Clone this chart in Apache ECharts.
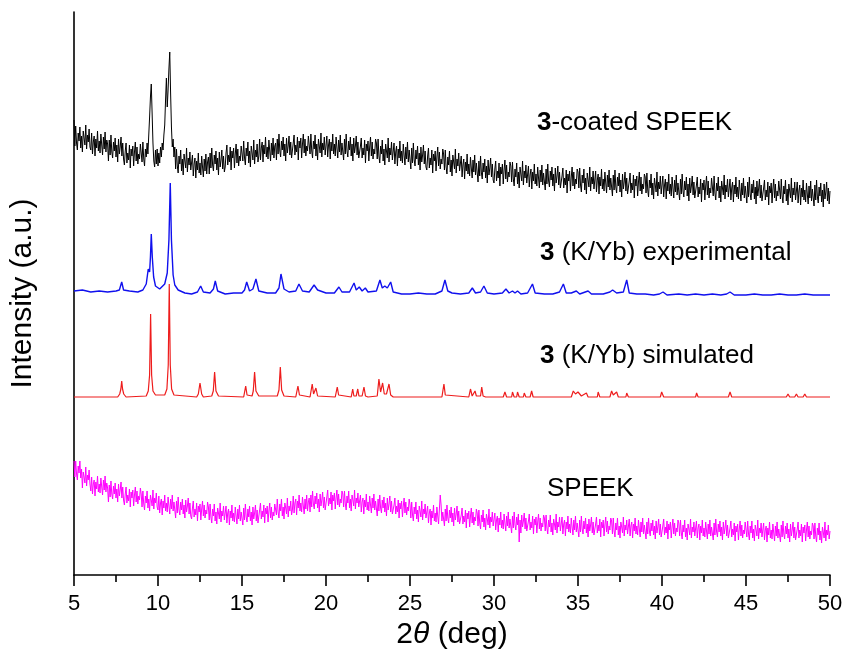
<!DOCTYPE html>
<html><head><meta charset="utf-8">
<script src="https://cdn.jsdelivr.net/npm/echarts@6/dist/echarts.min.js"></script>
<style>html,body{margin:0;padding:0;background:#fff}#chart{width:847px;height:657px}</style>
</head><body><div id="chart"></div>
<script>
// Measurement grid of the two noisy (amorphous) patterns: 5.00° .. 50.00°, step 0.05°
const xStart = 5, xStep = 0.05;

// 3-coated SPEEK (black), intensity in arbitrary units (offset stacked), one row per degree
const coatedSpeek = [
455,429,449,432,425,442,434,448,427,439,423,444,437,430,450,426,440,433,446,428,
425,442,421,433,439,419,436,427,444,424,434,422,441,430,420,438,426,443,423,435,
431,414,435,420,440,423,417,433,424,437,418,430,413,436,421,428,438,419,432,416,
410,424,432,412,422,415,430,407,426,419,429,409,423,433,414,428,411,421,416,431,
429,413,433,416,409,426,418,432,421,440,458,478,491,462,432,414,408,425,411,426,
409,422,412,428,418,432,425,440,450,475,497,468,485,506,523,482,448,428,436,418,
428,406,426,409,402,419,411,425,404,416,400,421,414,407,427,403,417,410,423,405,
403,420,399,411,417,397,414,405,422,402,412,400,419,408,398,416,404,421,401,413,
418,401,422,407,427,410,404,420,411,424,405,417,400,423,408,415,425,406,419,403,
408,422,430,410,420,413,428,405,424,417,427,407,421,431,412,426,409,419,414,429,
430,414,434,417,410,427,419,433,412,424,408,429,422,415,435,411,425,418,431,413,
419,436,415,427,433,413,430,421,438,418,428,416,435,424,414,432,420,437,417,429,
432,415,436,421,441,424,418,434,425,438,419,431,414,437,422,429,439,420,433,417,
418,432,440,420,430,423,438,415,434,427,437,417,431,441,422,436,419,429,424,439,
437,421,441,424,417,434,426,440,419,431,415,436,429,422,442,418,432,425,438,420,
422,439,418,430,436,416,433,424,441,421,431,419,438,427,417,435,423,440,420,432,
432,415,436,421,441,424,418,434,425,438,419,431,414,437,422,429,439,420,433,417,
415,429,437,417,427,420,435,412,431,424,434,414,428,438,419,433,416,426,421,436,
432,416,436,419,412,429,421,435,414,426,410,431,424,417,437,413,427,420,433,415,
415,432,411,423,429,409,426,417,434,414,424,412,431,420,410,428,416,433,413,425,
423,406,427,412,432,415,409,425,416,429,410,422,405,428,413,420,430,411,424,408,
405,419,427,407,417,410,425,402,421,414,424,404,418,428,409,423,406,416,411,426,
421,405,425,408,401,418,410,424,403,415,399,420,413,406,426,402,416,409,422,404,
402,419,398,410,416,396,413,404,421,401,411,399,418,407,397,415,403,420,400,412,
410,393,414,399,419,402,396,412,403,416,397,409,392,415,400,407,417,398,411,395,
392,406,414,394,404,397,412,389,408,401,411,391,405,415,396,410,393,403,398,413,
409,393,413,396,389,406,398,412,391,403,387,408,401,394,414,390,404,397,410,392,
392,409,388,400,406,386,403,394,411,391,401,389,408,397,387,405,393,410,390,402,
402,385,406,391,411,394,388,404,395,408,389,401,384,407,392,399,409,390,403,387,
385,399,407,387,397,390,405,382,401,394,404,384,398,408,389,403,386,396,391,406,
403,387,407,390,383,400,392,406,385,397,381,402,395,388,408,384,398,391,404,386,
387,404,383,395,401,381,398,389,406,386,396,384,403,392,382,400,388,405,385,397,
396,379,400,385,405,388,382,398,389,402,383,395,378,401,386,393,403,384,397,381,
380,394,402,382,392,385,400,377,396,389,399,379,393,403,384,398,381,391,386,401,
398,382,402,385,378,395,387,401,380,392,376,397,390,383,403,379,393,386,399,381,
382,399,378,390,396,376,393,384,401,381,391,379,398,387,377,395,383,400,380,392,
392,375,396,381,401,384,378,394,385,398,379,391,374,397,382,389,399,380,393,377,
376,390,398,378,388,381,396,373,392,385,395,375,389,399,380,394,377,387,382,397,
395,379,399,382,375,392,384,398,377,389,373,394,387,380,400,376,390,383,396,378,
379,396,375,387,393,373,390,381,398,378,388,376,395,384,374,392,380,397,377,389,
389,372,393,378,398,381,375,391,382,395,376,388,371,394,379,386,396,377,390,374,
373,387,395,375,385,378,393,370,389,382,392,372,386,396,377,391,374,384,379,394,
392,376,396,379,372,389,381,395,374,386,370,391,384,377,397,373,387,380,393,375,
376,393,372,384,390,370,387,378,395,375,385,373,392,381,371,389,377,394,374,386,
386,369,390,375,395,378,372,388,379,392,373,385,368,391,376,383,393,374,387,371,
384
];

// SPEEK (magenta), one row per degree
const speek = [
114,98,114,101,95,109,102,114,97,106,87,103,98,92,108,89,100,95,105,91,
84,98,81,91,95,79,93,86,99,83,91,82,97,88,80,95,85,99,83,92,
87,73,90,78,94,81,76,89,81,92,77,86,73,91,79,85,93,77,88,75,
70,81,88,72,80,74,86,68,83,77,85,69,80,88,73,84,71,79,75,87,
81,68,84,71,65,79,72,84,67,76,64,80,75,69,85,66,77,72,82,68,
65,79,62,72,76,60,74,67,80,64,72,63,78,69,61,76,66,80,64,73,
71,57,74,62,78,65,60,73,65,76,61,70,57,75,63,69,77,61,72,59,
56,67,74,58,66,60,72,54,69,63,71,55,66,74,59,70,57,65,61,73,
68,55,71,58,52,66,59,71,54,63,51,67,62,56,72,53,64,59,69,55,
55,69,52,62,66,50,64,57,70,54,62,53,68,59,51,66,56,70,54,63,
64,50,67,55,71,58,53,66,58,69,54,63,50,68,56,62,70,54,65,52,
54,65,72,56,64,58,70,52,67,61,69,53,64,72,57,68,55,63,59,71,
73,60,76,63,57,71,64,76,59,68,56,72,67,61,77,58,69,64,74,60,
65,79,62,72,76,60,74,67,80,64,72,63,78,69,61,76,66,80,64,73,
77,63,80,68,84,71,66,79,71,82,67,76,63,81,69,75,83,67,78,65,
67,78,85,69,77,71,83,65,80,74,82,66,77,85,70,81,68,76,72,84,
81,68,84,71,65,79,72,84,67,76,64,80,75,69,85,66,77,72,82,68,
66,80,63,73,77,61,75,68,81,65,73,64,79,70,62,77,67,81,65,74,
73,59,76,64,80,67,62,75,67,78,63,72,59,77,65,71,79,63,74,61,
59,70,77,61,69,63,75,57,72,66,74,58,69,77,62,73,60,68,64,76,
70,57,73,60,54,68,61,73,56,65,53,69,64,58,74,55,66,61,71,57,
55,69,52,62,66,50,64,57,70,54,62,53,68,59,51,66,80,70,54,63,
63,49,66,54,70,57,52,65,57,68,53,62,49,67,55,61,69,53,64,51,
49,60,67,51,59,53,65,47,62,56,64,48,59,67,52,63,50,58,54,66,
62,49,65,52,46,60,53,65,48,57,45,61,56,50,66,47,58,53,63,49,
48,62,45,55,59,43,57,50,63,47,55,46,61,52,44,59,49,63,47,56,
56,42,59,47,63,50,45,58,50,61,33,55,42,60,48,54,62,46,57,44,
43,54,61,45,53,47,59,41,56,50,58,42,53,61,46,57,44,52,48,60,
57,44,60,47,41,55,48,60,43,52,40,56,51,45,61,42,53,48,58,44,
44,58,41,51,55,39,53,46,59,43,51,42,57,48,40,55,45,59,43,52,
52,38,55,43,59,46,41,54,46,57,42,51,38,56,44,50,58,42,53,40,
40,51,58,42,50,44,56,38,53,47,55,39,50,58,43,54,41,49,45,57,
54,41,57,44,38,52,45,57,40,49,37,53,48,42,58,39,50,45,55,41,
42,56,39,49,53,37,51,44,57,41,49,40,55,46,38,53,43,57,41,50,
50,36,53,41,57,44,39,52,44,55,40,49,36,54,42,48,56,40,51,38,
38,49,56,40,48,42,54,36,51,45,53,37,48,56,41,52,39,47,43,55,
52,39,55,42,36,50,43,55,38,47,35,51,46,40,56,37,48,43,53,39,
40,54,37,47,51,35,49,42,55,39,47,38,53,44,36,51,41,55,39,48,
49,35,52,40,56,43,38,51,43,54,39,48,35,53,41,47,55,39,50,37,
36,47,54,38,46,40,52,34,49,43,51,35,46,54,39,50,37,45,41,53,
51,38,54,41,35,49,42,54,37,46,34,50,45,39,55,36,47,42,52,38,
38,52,35,45,49,33,47,40,53,37,45,36,51,42,34,49,39,53,37,46,
47,33,50,38,54,41,36,49,41,52,37,46,33,51,39,45,53,37,48,35,
35,46,53,37,45,39,51,33,48,42,50,34,45,53,38,49,36,44,40,52,
49,36,52,39,33,47,40,52,35,44,32,48,43,37,53,34,45,40,50,36,
44
];

// 3 (K/Yb) experimental (blue): [2θ, intensity]
const experimental = [
[5,284],[5.5,285],[6,283],[6.5,284],[7,283],[7.5,284],[7.7,285],[7.84,293],[7.95,285],[8.3,284],[8.8,283],[9.1,285],[9.3,291],[9.42,306],[9.5,303],[9.55,318],[9.6,341],[9.66,318],[9.74,298],[9.85,289],[10.1,286],[10.4,291],[10.55,302],[10.65,335],[10.73,392],[10.8,335],[10.9,300],[11,290],[11.2,285],[11.6,282],[12,281],[12.35,283],[12.54,289],[12.7,283],[13.1,282],[13.3,286],[13.41,294],[13.55,284],[14,281],[14.5,282],[15,282],[15.15,285],[15.28,293],[15.45,284],[15.65,286],[15.83,296],[16,284],[16.5,282],[17,282],[17.2,287],[17.32,301],[17.5,286],[17.8,283],[18.2,284],[18.39,291],[18.6,284],[19,283],[19.29,290],[19.5,285],[20,282],[20.5,282],[20.6,284],[20.77,288],[20.95,283],[21.4,283],[21.67,292],[21.8,285],[21.98,288],[22.15,284],[22.34,287],[22.5,283],[23,284],[23.21,295],[23.35,287],[23.5,289],[23.65,287],[23.85,293],[24,283],[24.5,281],[25,281],[25.5,282],[26,281],[26.5,281],[26.9,284],[27.08,295],[27.25,284],[27.5,282],[28,281],[28.5,282],[28.71,287],[28.9,282],[29.2,283],[29.4,289],[29.6,282],[30,281],[30.5,282],[30.71,286],[30.9,282],[31.1,284],[31.25,282],[31.4,284],[31.6,281],[32,282],[32.29,291],[32.45,282],[33,281],[33.5,281],[33.9,283],[34.13,291],[34.3,282],[34.6,282],[34.9,284],[35.1,281],[35.6,284],[35.8,281],[36.5,281],[36.9,283],[37.06,285],[37.3,282],[37.7,283],[37.9,295],[38.05,282],[38.5,281],[39,281],[39.5,280],[39.85,281],[40.06,283],[40.3,280],[41,281],[41.5,280],[42,281],[42.5,280],[43,281],[43.5,280],[43.85,281],[44.05,283],[44.3,280],[45,280],[45.5,281],[46,280],[46.5,280],[47,281],[47.5,280],[48,280],[48.5,281],[49,280],[49.5,280],[50,280]
];

// 3 (K/Yb) simulated (red): [2θ, intensity]
const simulated = [
[5,178],[7.6,178],[7.72,181],[7.79,186],[7.84,194],[7.89,186],[7.96,181],[8.1,178],[9.3,179],[9.42,184],[9.5,200],[9.56,261],[9.62,200],[9.7,184],[9.85,180],[10.4,180],[10.53,186],[10.61,210],[10.67,291],[10.73,210],[10.81,186],[10.95,180],[12.3,178],[12.4,181],[12.5,192],[12.6,181],[12.7,178],[13.2,179],[13.29,184],[13.37,203],[13.45,184],[13.6,179],[15.1,178],[15.15,180],[15.22,189],[15.3,180],[15.6,179],[15.67,184],[15.75,203],[15.83,184],[16,179],[17.1,179],[17.2,185],[17.28,208],[17.36,185],[17.5,179],[18.2,178],[18.26,180],[18.33,189],[18.42,180],[18.5,178],[19.05,178],[19.1,180],[19.18,191],[19.26,181],[19.32,181],[19.4,187],[19.5,179],[19.6,178],[20.55,178],[20.6,180],[20.67,188],[20.75,180],[20.85,178],[21.5,178],[21.55,179],[21.59,186],[21.66,179],[21.8,179],[21.89,186],[21.96,179],[22.15,179],[22.26,188],[22.35,179],[22.5,178],[23.05,179],[23.15,196],[23.25,183],[23.37,192],[23.47,181],[23.6,181],[23.75,191],[23.85,180],[24,178],[24.85,178],[24.9,180],[24.97,178],[25.15,178],[25.2,180],[25.27,178],[26.9,178],[26.95,180],[27.02,191],[27.1,180],[27.2,178],[28.5,178],[28.6,186],[28.7,179],[28.87,184],[28.95,179],[29.2,179],[29.27,188],[29.35,179],[29.5,178],[30.55,178],[30.65,183],[30.75,178],[31.05,178],[31.1,183],[31.2,178],[31.35,178],[31.4,183],[31.5,178],[31.75,178],[31.8,182],[31.9,178],[32.15,178],[32.24,184],[32.33,178],[34.6,178],[34.72,184],[34.85,181],[35,183],[35.2,179],[35.5,182],[35.6,178],[36.15,178],[36.2,183],[36.3,178],[36.9,178],[37,184],[37.1,180],[37.3,183],[37.4,178],[37.85,178],[37.9,182],[38,178],[39.9,178],[39.98,183],[40.1,178],[42,178],[42.06,182],[42.15,178],[43.95,178],[44.05,183],[44.15,178],[47.4,178],[47.5,181],[47.6,178],[47.9,178],[48,181],[48.1,178],[48.4,178],[48.5,181],[48.6,178],[50,178]
];

const seriesNames = ['3-coated SPEEK', '3 (K/Yb) experimental', '3 (K/Yb) simulated', 'SPEEK'];
const labelTexts = ['{b|3}-coated SPEEK', '{b|3} (K/Yb) experimental', '{b|3} (K/Yb) simulated', 'SPEEK'];
const xMin = 5, xMax = 50, xInterval = 5;
const xAxisTitle = '2{i|θ} (deg)';
const yAxisTitle = 'Intensity (a.u.)';

const toPairs = vals => vals.map((v, i) => [Math.round((xStart + i * xStep) * 100) / 100, v]);

const FONT = 'Arial, "Liberation Sans", Helvetica, sans-serif';
const chart = echarts.init(document.getElementById('chart'), null, {renderer: 'canvas'});
const labelPos = [[537, 125], [540, 255], [540, 358], [547, 491]];
const textRich = {b: {fontWeight: 'bold', fontSize: 26, fontFamily: FONT, fill: '#000'}};

chart.setOption({
  animation: false,
  backgroundColor: '#fff',
  grid: {left: 74, right: 17, top: 12, bottom: 82},
  xAxis: {
    type: 'value', min: xMin, max: xMax, interval: xInterval,
    name: xAxisTitle, nameLocation: 'middle', nameGap: 45,
    nameTextStyle: {fontSize: 30, fontFamily: FONT, color: '#000',
      rich: {i: {fontStyle: 'italic', fontSize: 30, fontFamily: FONT, color: '#000'}}},
    axisLine: {show: true, onZero: false, lineStyle: {color: '#000', width: 1.6}},
    axisTick: {show: true, inside: false, length: 11, lineStyle: {color: '#000', width: 1.6}},
    minorTick: {show: true, splitNumber: 2, length: 7, lineStyle: {color: '#000', width: 1.6}},
    axisLabel: {fontSize: 22, fontFamily: FONT, color: '#000', margin: 18},
    splitLine: {show: false}, minorSplitLine: {show: false}
  },
  yAxis: {
    type: 'value', min: 0, max: 563,
    name: yAxisTitle, nameLocation: 'middle', nameGap: 36,
    nameTextStyle: {fontSize: 30, fontFamily: FONT, color: '#000'},
    axisLine: {show: true, onZero: false, lineStyle: {color: '#000', width: 1.6}},
    axisTick: {show: false}, axisLabel: {show: false}, splitLine: {show: false}
  },
  graphic: labelTexts.map((t, k) => ({
    type: 'text', left: labelPos[k][0], top: labelPos[k][1] - 15,
    style: {text: t, fontSize: 26, fontFamily: FONT, fill: '#000', rich: textRich}
  })),
  series: [
    {name: seriesNames[0], type: 'line', data: toPairs(coatedSpeek), showSymbol: false, symbol: 'none',
     lineStyle: {color: '#000', width: 1}, z: 2},
    {name: seriesNames[1], type: 'line', data: experimental, showSymbol: false, symbol: 'none',
     lineStyle: {color: '#1010ee', width: 1.4}, z: 3},
    {name: seriesNames[2], type: 'line', data: simulated, showSymbol: false, symbol: 'none',
     lineStyle: {color: '#ee1c1c', width: 1.2}, z: 4},
    {name: seriesNames[3], type: 'line', data: toPairs(speek), showSymbol: false, symbol: 'none',
     lineStyle: {color: '#ff00ff', width: 1}, z: 2}
  ]
});
</script>
</body></html>
